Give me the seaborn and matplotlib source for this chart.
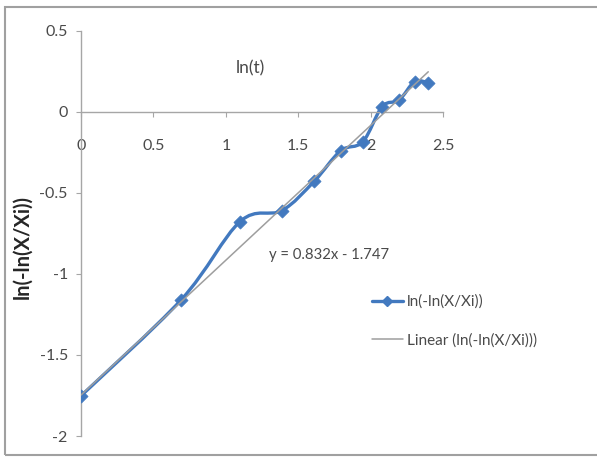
import numpy as np
import pandas as pd
import seaborn as sns
import matplotlib.pyplot as plt
from matplotlib.path import Path
from matplotlib.patches import PathPatch, Rectangle
from matplotlib.lines import Line2D

# valores
ln_t = [0.0, 0.693, 1.099, 1.386, 1.609, 1.792, 1.946, 2.079, 2.197, 2.303, 2.398]
ln_ln = [-1.752, -1.158, -0.676, -0.609, -0.429, -0.24, -0.184, 0.033, 0.074, 0.187, 0.181]
x_ticks = [0, 0.5, 1, 1.5, 2, 2.5]
y_ticks = [0.5, 0, -0.5, -1, -1.5, -2]
# linha de tendencia informada no grafico: y = 0.832x - 1.747
trend_slope = 0.832
trend_intercept = -1.747

df = pd.DataFrame({"ln(t)": ln_t, "y": ln_ln})
trend_x = [min(ln_t), max(ln_t)]
trend = pd.DataFrame({"ln(t)": trend_x,
                      "y": [trend_slope * v + trend_intercept for v in trend_x]})

sns.set_theme(style="white")
plt.rcParams["font.family"] = ["Lato", "DejaVu Sans"]
plt.rcParams["axes.unicode_minus"] = False

blue = "#4279BF"
gray = "#9E9E9E"
txt = "#4A4A4A"

fig = plt.figure(figsize=(5.97, 4.59), dpi=100)
ax = fig.add_axes([0.1357, 0.0501, 0.6064, 0.8824])

# linha suavizada estilo Excel (bezier a partir dos pontos)
xs, ys = np.array(ln_t), np.array(ln_ln)
n = len(xs)
verts = [(xs[0], ys[0])]
codes = [Path.MOVETO]
for i in range(n - 1):
    p0 = np.array([xs[max(i - 1, 0)], ys[max(i - 1, 0)]])
    p1 = np.array([xs[i], ys[i]])
    p2 = np.array([xs[i + 1], ys[i + 1]])
    p3 = np.array([xs[min(i + 2, n - 1)], ys[min(i + 2, n - 1)]])
    c1 = p1 + (p2 - p0) / 6
    c2 = p2 - (p3 - p1) / 6
    verts += [tuple(c1), tuple(c2), tuple(p2)]
    codes += [Path.CURVE4] * 3
ax.add_patch(PathPatch(Path(verts, codes), fill=False, edgecolor=blue, lw=2.4, zorder=2))

sns.scatterplot(data=df, x="ln(t)", y="y", marker="D", s=45, color=blue,
                edgecolor=blue, linewidth=0.5, ax=ax, zorder=3, legend=False)

# linha de tendencia
sns.lineplot(data=trend, x="ln(t)", y="y", color=gray, lw=1.1, ax=ax, zorder=4)

ax.set_xlim(0, 2.5)
ax.set_ylim(-2, 0.5)
ax.set_xticks(x_ticks)
ax.set_xticklabels([f"{v:g}" for v in x_ticks])
ax.set_yticks(y_ticks)
ax.set_yticklabels([f"{v:g}" for v in y_ticks])
ax.set_xlabel("")
ax.set_ylabel("")

ax.spines["left"].set_position(("data", 0))
ax.spines["bottom"].set_position(("data", 0))
for s in ["top", "right"]:
    ax.spines[s].set_visible(False)
for s in ["left", "bottom"]:
    ax.spines[s].set_color("#A6A6A6")
    ax.spines[s].set_linewidth(1.0)

ax.tick_params(axis="x", direction="out", length=3.5, width=0.8, color="#A6A6A6",
               pad=16, labelsize=11.5, labelcolor=txt, bottom=True)
ax.tick_params(axis="y", direction="out", length=3.5, width=0.8, color="#A6A6A6",
               pad=6, labelsize=11.5, labelcolor=txt, left=True)
for lbl in ax.get_xticklabels():
    lbl.set_bbox(dict(facecolor="white", edgecolor="none", pad=0.5))

ax.text(1.17, 0.27, "ln(t)", fontsize=12.5, color=txt, ha="center", va="center")
ax.text(1.3, -0.885, "y = 0.832x - 1.747", fontsize=10.7, color=txt, ha="left", va="center")

fig.text(0.038, 0.462, "ln(-ln(X/Xi))", rotation=90, fontsize=14.5, fontweight="bold",
         color="#262626", ha="center", va="center")

handles = [
    Line2D([], [], color=blue, lw=2.4, marker="D", markersize=5),
    Line2D([], [], color=gray, lw=1.1),
]
fig.legend(handles, ["ln(-ln(X/Xi))", "Linear (ln(-ln(X/Xi)))"], loc="upper left",
           bbox_to_anchor=(0.6, 0.388), frameon=False, fontsize=11, labelcolor=txt,
           handlelength=2.0, handletextpad=0.3, labelspacing=1.6)

fig.patches.append(Rectangle((0.008, 0.009), 1.2, 0.975, transform=fig.transFigure,
                             fill=False, edgecolor="#A0A0A0", lw=1.5))

fig.savefig("out.png", dpi=100)
